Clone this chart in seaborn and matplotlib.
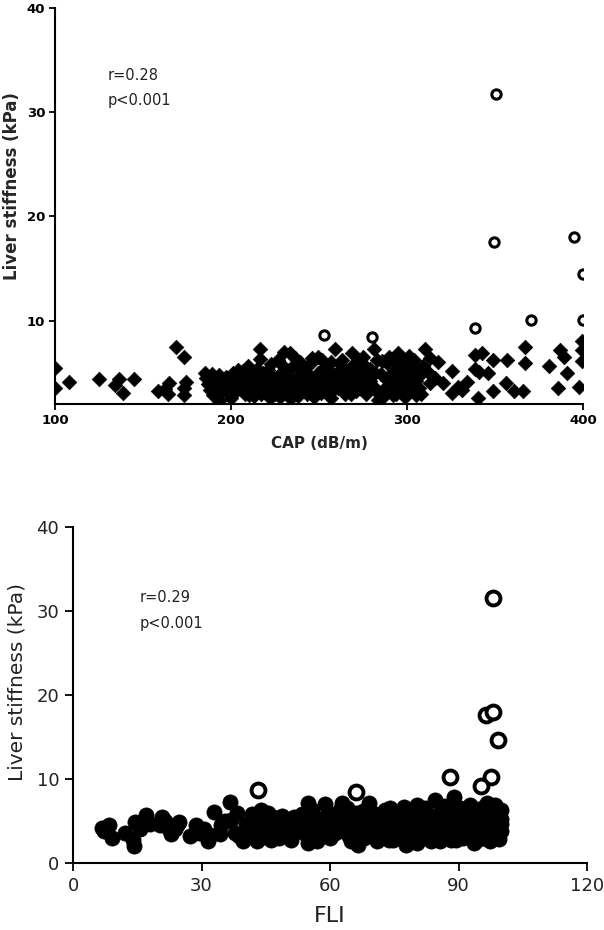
import matplotlib
matplotlib.use("Agg")
import matplotlib.pyplot as plt
import numpy as np
import pandas as pd
import seaborn as sns

# ---- top panel: CAP vs liver stiffness ----
cap_filled = [100, 100, 108, 125, 134, 136.4, 138.6, 145, 158.5, 162.5, 164, 165, 169, 173.5, 174.4, 173.5, 173.5,
              185, 187, 189, 190.7, 189.8, 193, 193, 194.5, 196.4, 198, 186, 188, 191, 195, 192,
              197, 197, 199, 199, 201, 201, 203, 203, 204, 206, 206, 208, 208, 209.7, 211, 211, 213, 213, 215, 215,
              216.5, 216.5, 216.5, 218, 218, 220, 220, 222, 222, 223, 223, 225, 225, 226.7, 226.7, 228, 228,
              230, 230, 230, 232, 232, 233.5, 233.5, 235, 235, 236.4, 236.4, 238, 238, 239, 239, 241, 241,
              243, 243, 245, 245, 247, 247, 249.4, 249.4, 249.4, 251, 251, 253, 253, 255, 255, 257, 257, 257,
              259, 259, 261, 261, 263, 263, 265, 265, 267, 267, 269, 269, 271, 271, 273, 273, 275, 275, 277, 277,
              279, 279, 281, 281, 283, 283.5, 285, 287, 287, 288.6, 288.6, 290, 290, 292, 292, 293.5, 293.5,
              295, 295, 297, 297, 299, 299, 299, 301, 301, 303, 303, 305, 305, 307, 307,
              200, 202, 205, 207, 210, 212, 214, 217, 219, 221, 224, 227, 229, 231, 234, 237, 240, 242, 244, 246,
              248, 250, 252, 254, 256, 258, 260, 262, 264, 266, 268, 270, 272, 274, 276, 278, 280, 282, 284, 286,
              289, 291, 294, 296, 298, 300, 302, 304, 306, 308, 309,
              310, 311.5, 313, 313, 316, 317.6, 320.5, 325.6, 325.6, 329, 331, 334, 338.6, 338.6, 341, 342.4,
              340.3, 346, 349, 349, 356.8, 356.3, 361, 365.9, 367, 367, 381, 386, 387, 389, 391, 398,
              399.4, 399.4, 399.4]
ls_cap_filled = [5.5, 3.5, 4.1, 4.4, 3.8, 4.4, 3.1, 4.4, 3.2, 3.4, 3.0, 4.0, 7.5, 6.5, 4.1, 3.5, 2.9,
                 5.0, 3.9, 4.9, 3.7, 2.9, 4.8, 2.3, 4.0, 3.6, 4.3, 4.5, 3.3, 4.4, 3.2, 2.6,
                 3.4, 4.6, 4.5, 3.0, 3.8, 5.0, 4.2, 3.2, 5.3, 3.6, 4.8, 3.0, 4.4, 5.6, 3.4, 4.9, 4.1, 2.8, 3.7, 5.4,
                 7.3, 6.3, 4.5, 3.2, 5.0, 4.2, 3.6, 2.6, 4.8, 3.2, 5.8, 4.4, 3.0, 6.2, 3.8, 4.9, 2.7,
                 7.0, 4.1, 3.4, 5.2, 2.9, 6.9, 4.4, 3.6, 5.6, 6.4, 3.3, 4.7, 2.8, 6.0, 4.0, 3.5, 5.2,
                 4.5, 3.0, 5.8, 3.9, 4.3, 2.7, 6.5, 5.0, 3.6, 4.6, 3.1, 5.5, 4.0, 3.3, 4.8, 6.0, 3.8, 2.6,
                 7.3, 4.5, 5.1, 3.5, 4.2, 6.2, 3.0, 5.3, 4.7, 3.7, 6.9, 5.6, 4.1, 3.2, 5.0, 6.2, 6.5, 3.9, 4.6, 3.0,
                 5.4, 4.2, 7.3, 3.6, 6.2, 2.4, 4.9, 3.4, 2.8, 5.9, 4.3, 3.8, 6.5, 5.1, 2.9, 4.4, 6.0,
                 6.9, 3.6, 6.2, 4.8, 3.2, 5.5, 2.7, 4.6, 6.6, 3.8, 5.8, 4.2, 2.9, 5.2, 3.5,
                 2.6, 4.4, 4.0, 5.2, 2.9, 3.8, 4.6, 3.0, 4.0, 5.3, 4.0, 3.2, 5.7, 3.8, 2.6, 4.2, 5.5, 3.8, 4.9, 6.4,
                 3.3, 4.2, 6.2, 3.6, 5.2, 3.3, 4.0, 5.8, 3.5, 4.4, 3.0, 5.0, 4.5, 3.4, 5.6, 3.8, 4.8, 5.0, 3.0, 6.1,
                 3.2, 4.6, 3.0, 5.2, 4.0, 5.0, 3.3, 6.2, 4.6, 3.0, 5.6,
                 7.3, 5.2, 6.4, 4.0, 4.5, 6.0, 4.0, 5.2, 3.1, 3.6, 3.3, 4.1, 6.7, 5.4, 5.1, 6.9,
                 2.6, 5.0, 3.2, 6.2, 6.2, 4.0, 3.2, 3.2, 7.5, 5.9, 5.6, 3.5, 7.2, 6.5, 5.0, 3.6,
                 8.0, 7.2, 6.1]
cap_open = [350.7, 349.6, 395, 400, 400, 370.4, 338.7, 253, 280]
ls_cap_open = [31.7, 17.5, 18.0, 14.5, 10.1, 10.1, 9.3, 8.6, 8.4]

# ---- bottom panel: FLI vs liver stiffness ----
fli_filled = [6.7, 7.2, 8.5, 9.0, 12.1, 13.9, 14.2, 14.4, 15.7, 16.6, 17.1, 18.0, 20.2, 20.7, 21.5, 22.4, 22.9,
              23.8, 24.3, 24.7, 27.4, 28.8, 29.5, 30.6, 31.5, 32.0, 32.8, 34.2, 34.6, 35.5, 36.6, 36.9, 37.8,
              38.2, 38.7, 39.6, 41.3, 42.2, 42.2, 43.6, 44.0, 44.5, 45.0, 45.8, 46.7, 47.6, 48.2, 49.0, 49.9,
              50.8, 51.7, 53.0, 54.0, 54.8, 54.8, 55.7, 56.6, 57.5, 58.4, 58.9, 60.2, 60.8, 61.1, 62.4, 62.9,
              63.8, 64.5, 65.2, 66.0, 66.5, 67.4, 68.0, 69.2, 69.7, 70.5, 71.5, 72.8, 73.7, 74.5, 75.5, 76.4,
              77.3, 77.8, 78.5, 79.2, 80.0, 80.4, 81.0, 81.8, 82.5, 83.6, 84.0, 84.5, 85.4, 85.8, 86.3, 87.0,
              87.6, 88.2, 88.5, 89.0, 89.5, 89.9, 90.3, 90.8, 91.5, 92.0, 92.6, 93.0, 93.5, 94.0, 94.4, 94.8,
              95.3, 95.8, 96.2, 96.6, 97.1, 97.5, 97.8, 98.2, 98.5, 98.9, 99.3, 99.8, 100.0,
              40.5, 41.8, 43.0, 44.8, 45.5, 46.2, 47.0, 48.8, 50.2, 51.0, 52.0, 46.0, 43.0,
              53.5, 55.0, 56.0, 57.0, 58.0, 59.5, 60.0, 61.8, 63.0, 64.0, 64.8, 65.8, 66.8, 67.8, 68.5, 69.5,
              70.0, 71.0, 71.8, 72.5, 73.2, 74.0, 74.8, 75.2, 76.0, 76.8, 77.5, 78.0, 78.8, 79.5, 80.2, 80.8,
              81.5, 82.2, 82.8, 83.2, 84.2, 85.0, 85.6, 86.0, 86.6, 87.3, 87.8, 88.5, 88.8, 89.3, 89.8, 90.5,
              91.0, 91.3, 91.8, 92.3, 92.8, 93.3, 93.8, 94.2, 94.6, 95.0, 95.5, 96.0, 96.4, 96.9, 97.3, 97.6,
              98.0, 98.4, 98.7, 99.1, 99.5, 99.9, 100.0]
ls_fli_filled = [4.15, 3.8, 4.5, 3.0, 3.6, 2.8, 2.0, 4.9, 4.0, 5.1, 5.7, 4.6, 4.5, 5.5, 5.0, 4.0, 3.4,
                 4.0, 4.5, 4.9, 3.2, 4.5, 3.6, 4.0, 2.6, 3.3, 6.1, 3.4, 4.5, 5.0, 7.3, 5.1, 3.6,
                 5.9, 3.2, 2.6, 3.6, 5.1, 4.0, 3.0, 6.3, 5.4, 4.7, 3.2, 5.5, 4.1, 3.0, 3.6, 4.7,
                 3.2, 5.5, 4.5, 3.6, 7.1, 2.4, 6.3, 4.0, 5.3, 3.2, 7.0, 5.1, 4.3, 3.6, 6.3, 7.1,
                 4.7, 3.2, 5.5, 6.0, 2.2, 4.1, 3.0, 7.1, 5.1, 4.2, 3.4, 6.3, 2.8, 5.0, 4.0, 4.7,
                 6.7, 2.2, 3.6, 5.3, 3.4, 6.9, 4.4, 5.5, 3.0, 2.6, 4.8, 7.5, 4.7, 6.0, 3.6, 5.2,
                 6.3, 2.8, 4.3, 7.9, 3.4, 5.1, 6.5, 3.6, 4.6, 5.8, 6.9, 3.2, 2.4, 4.8, 5.1, 6.2,
                 4.0, 3.0, 5.6, 7.1, 3.6, 5.5, 6.8, 4.5, 3.0, 6.5, 4.1, 6.3, 5.2,
                 4.6, 5.8, 4.4, 3.6, 6.0, 2.8, 4.9, 5.6, 4.2, 2.8, 4.0, 4.0, 2.6,
                 5.8, 3.3, 5.0, 2.6, 4.5, 6.0, 3.0, 5.4, 3.8, 6.6, 2.6, 4.3, 5.2, 6.2, 4.7, 3.4,
                 6.0, 2.6, 5.2, 4.0, 3.3, 6.6, 2.8, 5.8, 3.4, 5.6, 4.2, 6.1, 2.6, 4.6, 2.4, 5.9,
                 3.6, 6.6, 4.1, 5.2, 3.2, 5.7, 2.6, 4.3, 6.8, 3.2, 4.7, 5.8, 6.6, 2.8, 4.0, 5.4,
                 3.0, 6.2, 4.1, 3.6, 5.2, 6.0, 3.8, 2.8, 5.9, 4.4, 6.6, 3.4, 4.6, 6.1, 2.6, 4.2,
                 5.9, 6.9, 3.6, 5.3, 2.9, 4.6, 3.8]
fli_open = [98, 96.3, 98, 99.3, 87.9, 97.5, 95.3, 43.1, 66]
ls_fli_open = [31.6, 17.6, 18.0, 14.6, 10.3, 10.3, 9.2, 8.7, 8.4]

sns.set_theme(style="ticks")
plt.rcParams["font.family"] = ["DejaVu Sans"]

fig = plt.figure(figsize=(6.04, 9.30), dpi=100)
ax1 = fig.add_axes([0.0911, 0.5656, 0.874, 0.4258])
ax2 = fig.add_axes([0.1209, 0.072, 0.851, 0.3613])

# top
sns.scatterplot(x=cap_filled, y=ls_cap_filled, marker="D", s=55, color="black", edgecolor="black",
                linewidth=0.5, ax=ax1)
sns.scatterplot(x=cap_open, y=ls_cap_open, marker="o", s=45, color="white", edgecolor="black",
                linewidth=2.2, ax=ax1)
ax1.set_xlim(100, 400)
ax1.set_ylim(2, 40)
ax1.set_xticks([100, 200, 300, 400])
ax1.set_yticks([10, 20, 30, 40])
ax1.set_xlabel("CAP (dB/m)", fontsize=11, fontweight="bold", labelpad=7)
ax1.set_ylabel("Liver stiffness (kPa)", fontsize=12, fontweight="bold")
ax1.yaxis.set_label_coords(-0.064, 0.55)
for lab in ax1.get_xticklabels() + ax1.get_yticklabels():
    lab.set_fontweight("bold")
ax1.tick_params(labelsize=9.5, length=4, width=1.3, colors="black", direction="out", pad=3)
ax1.text(0.10, 0.83, "r=0.28", transform=ax1.transAxes, fontsize=10.5, va="center", color="#222222")
ax1.text(0.10, 0.767, "p<0.001", transform=ax1.transAxes, fontsize=10.5, va="center", color="#222222")

# bottom
sns.scatterplot(x=fli_filled, y=ls_fli_filled, marker="o", s=120, color="black", edgecolor="black",
                linewidth=0.5, ax=ax2)
sns.scatterplot(x=fli_open, y=ls_fli_open, marker="o", s=100, color="white", edgecolor="black",
                linewidth=2.8, ax=ax2)
ax2.set_xlim(0, 120)
ax2.set_ylim(0, 40)
ax2.set_xticks([0, 30, 60, 90, 120])
ax2.set_yticks([0, 10, 20, 30, 40])
ax2.set_xlabel("FLI", fontsize=16, color="#222222", labelpad=8)
ax2.set_ylabel("Liver stiffness (kPa)", fontsize=14.5, color="#222222")
ax2.yaxis.set_label_coords(-0.09, 0.54)
ax2.tick_params(labelsize=13, length=6, width=1.3, colors="black", labelcolor="#222222",
                direction="out", pad=4)
ax2.text(0.13, 0.789, "r=0.29", transform=ax2.transAxes, fontsize=10.5, va="center", color="#222222")
ax2.text(0.13, 0.714, "p<0.001", transform=ax2.transAxes, fontsize=10.5, va="center", color="#222222")

for ax in (ax1, ax2):
    sns.despine(ax=ax)
    for sp in ("left", "bottom"):
        ax.spines[sp].set_linewidth(1.5)
        ax.spines[sp].set_color("black")

fig.savefig("out.png", dpi=100)
